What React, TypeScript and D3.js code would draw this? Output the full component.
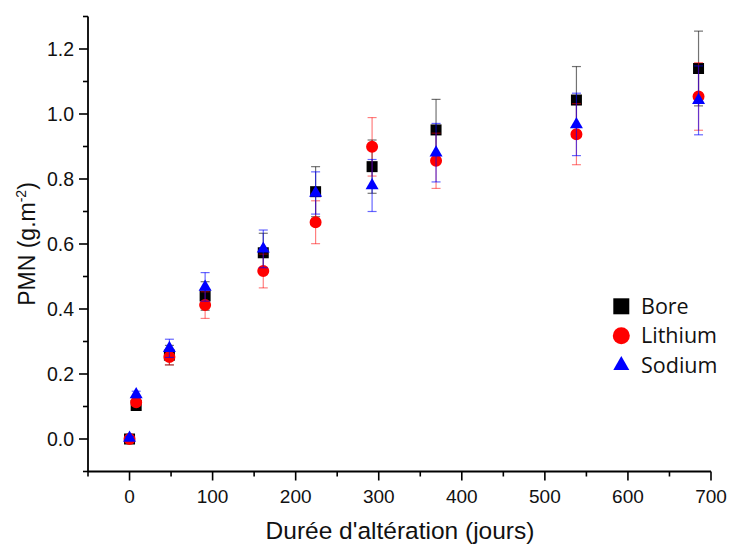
import React from "react";
import * as d3 from "d3";

const days = [0, 8, 48, 91, 161, 224, 292, 369, 538, 685];
const bore = [0, 0.103, 0.258, 0.44, 0.573, 0.761, 0.838, 0.951, 1.043, 1.14];
const boreErr = [0.005, 0.01, 0.03, 0.044, 0.06, 0.077, 0.082, 0.094, 0.103, 0.115];
const lithium = [0, 0.113, 0.252, 0.412, 0.517, 0.667, 0.899, 0.856, 0.938, 1.054];
const lithiumErr = [0.005, 0.01, 0.024, 0.041, 0.052, 0.066, 0.09, 0.085, 0.094, 0.104];
const sodium = [0.003, 0.137, 0.279, 0.468, 0.585, 0.757, 0.78, 0.881, 0.968, 1.042];
const sodiumErr = [0.005, 0.01, 0.028, 0.044, 0.058, 0.065, 0.08, 0.09, 0.096, 0.106];

const seriesNames = ["Bore", "Lithium", "Sodium"];
const xMajor = [0, 100, 200, 300, 400, 500, 600, 700];
const xMinor = [-50, 50, 150, 250, 350, 450, 550, 650];
const yMajor = [0, 0.2, 0.4, 0.6, 0.8, 1.0, 1.2];
const yMinor = [-0.1, 0.1, 0.3, 0.5, 0.7, 0.9, 1.1, 1.3];

const W = 729;
const H = 545;
const tickFont = "'Liberation Sans', Arial, sans-serif";
const legendFont = "'Open Sans', 'Noto Sans', sans-serif";

export default function App() {
  const x = d3.scaleLinear().domain([-50, 700]).range([88, 711]);
  const y = d3.scaleLinear().domain([-0.1, 1.3]).range([471.5, 16.5]);

  const series = [
    { name: seriesNames[0], vals: bore, errs: boreErr, color: "#000000", barOpacity: 0.55, symbol: d3.symbolSquare, size: 121, lsize: 256 },
    { name: seriesNames[1], vals: lithium, errs: lithiumErr, color: "#ff0000", barOpacity: 0.5, symbol: d3.symbolCircle, size: 113, lsize: 227 },
    { name: seriesNames[2], vals: sodium, errs: sodiumErr, color: "#0000ff", barOpacity: 0.6, symbol: d3.symbolTriangle, size: 73, lsize: 111 },
  ];

  const axisY = y(-0.1);
  const axisX = x(-50);
  const cap = 4.5;

  return (
    <svg width={W} height={H} style={{ position: "absolute", left: 0, top: 0, background: "#fff" }}>
      {/* series */}
      {series.map((s, si) => (
        <g key={si}>
          {days.map((d, i) => {
            const cx = x(d);
            const y1 = y(s.vals[i] + s.errs[i]);
            const y2 = y(s.vals[i] - s.errs[i]);
            return (
              <g key={i} stroke={s.color} strokeOpacity={s.barOpacity} strokeWidth={1.2}>
                <line x1={cx} x2={cx} y1={y1} y2={y2} />
                <line x1={cx - cap} x2={cx + cap} y1={y1} y2={y1} />
                <line x1={cx - cap} x2={cx + cap} y1={y2} y2={y2} />
              </g>
            );
          })}
          {days.map((d, i) => (
            <path
              key={"m" + i}
              d={d3.symbol().type(s.symbol).size(s.size)() as string}
              transform={`translate(${x(d)},${y(s.vals[i])})`}
              fill={s.color}
            />
          ))}
        </g>
      ))}

      {/* axes */}
      <line x1={axisX} x2={x(700)} y1={axisY} y2={axisY} stroke="#000" strokeWidth={1.8} />
      <line x1={axisX} x2={axisX} y1={y(1.3)} y2={axisY} stroke="#000" strokeWidth={1.8} />
      {xMajor.map((t) => (
        <g key={"xm" + t}>
          <line x1={x(t)} x2={x(t)} y1={axisY} y2={axisY + 9} stroke="#000" strokeWidth={1.6} />
          <text x={x(t)} y={axisY + 31.5} textAnchor="middle" fontFamily={tickFont} fontSize={19} fill="#111">
            {t}
          </text>
        </g>
      ))}
      {xMinor.map((t) => (
        <line key={"xn" + t} x1={x(t)} x2={x(t)} y1={axisY} y2={axisY + 5} stroke="#000" strokeWidth={1.6} />
      ))}
      {yMajor.map((t) => (
        <g key={"ym" + t}>
          <line x1={axisX} x2={axisX - 9} y1={y(t)} y2={y(t)} stroke="#000" strokeWidth={1.6} />
          <text x={axisX - 14} y={y(t) + 7} textAnchor="end" fontFamily={tickFont} fontSize={19.5} fill="#111">
            {d3.format(".1f")(t)}
          </text>
        </g>
      ))}
      {yMinor.map((t) => (
        <line key={"yn" + t} x1={axisX} x2={axisX - 5} y1={y(t)} y2={y(t)} stroke="#000" strokeWidth={1.6} />
      ))}

      {/* axis titles */}
      <text x={400} y={539} textAnchor="middle" fontFamily={tickFont} fontSize={24.5} fill="#111">
        Durée d'altération (jours)
      </text>
      <text
        transform={`translate(35,244) rotate(-90)`}
        textAnchor="middle"
        fontFamily={tickFont}
        fontSize={23}
        fill="#111"
      >
        PMN (g.m
        <tspan fontSize={14} dy={-9}>-2</tspan>
        <tspan dy={9}>)</tspan>
      </text>

      {/* legend */}
      {series.map((s, i) => (
        <g key={"lg" + i} transform={`translate(0,${i * 29.5})`}>
          <path d={d3.symbol().type(s.symbol).size(s.lsize)() as string} transform={`translate(621.3,${306.3})`} fill={s.color} />
          <text x={641} y={313.5} fontFamily={legendFont} fontSize={21.5} fill="#111">
            {s.name}
          </text>
        </g>
      ))}
    </svg>
  );
}
